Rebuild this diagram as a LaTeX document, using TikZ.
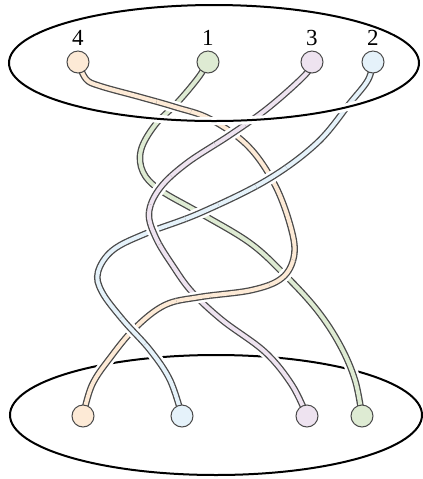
\documentclass[tikz,border=0pt]{standalone}
\usepackage{fontspec}
\setmainfont{Liberation Serif}
\usepackage{tikz}
\usetikzlibrary{positioning}
\definecolor{colOrange}{HTML}{FDEAD6}
\definecolor{colGreen}{HTML}{DEEBD3}
\definecolor{colPink}{HTML}{EEE3F0}
\definecolor{colBlue}{HTML}{E5F2FA}
\definecolor{colEdge}{HTML}{4A4A4A}
\tikzset{
    strand/.style={
        preaction={draw=white, line width=5.8pt},
        draw=colEdge, line width=0.65pt,
        double=#1, double distance=2pt
    },
    bead/.style={
        circle, draw=colEdge, fill=#1, line width=0.5pt,
        minimum size=11pt, inner sep=0pt
    },
    disk/.style={draw=black, line width=1pt},
    diskhalo/.style={draw=white, line width=4pt},
    numlabel/.style={font=\fontsize{11.5}{13}\selectfont, inner sep=2.2pt},
}
% smooth strand through a stored list of points
\newcommand{\strandplot}[2]{%
    \edef\next{\noexpand\draw[strand=#1] plot[smooth, tension=0.6] coordinates {#2};}%
    \next}
% redraw the upper strand at a crossing
\newcommand{\overat}[3]{%
    \begin{scope}
        \clip (#1) circle (9pt);
        \strandplot{#2}{#3}
    \end{scope}}
\begin{document}
\begin{tikzpicture}[x=0.5pt, y=-0.5pt]
    \useasboundingbox (0,0) rectangle (423,479);
    % lower disk, behind the strands
    \draw[disk] (216,415) ellipse (103pt and 30pt);

    % bead positions
    \coordinate (t4) at (78,62);
    \coordinate (t1) at (208,62);
    \coordinate (t3) at (312,62);
    \coordinate (t2) at (373,62);
    \coordinate (b4) at (83,416);
    \coordinate (b2) at (182,416);
    \coordinate (b3) at (307,416);
    \coordinate (b1) at (362,416);

    \def\ptsO{(t4) (86,79) (100,86) (140,97) (175,107) (210,119) (248,146) (275,185) (291,228) (294,256) (282,278) (252,290) (200,297) (165,305) (135,328) (110,358) (92,385) (b4)}
    \def\ptsG{(t1) (198,78) (177,103) (155,125) (141,150) (143,172) (160,190) (200,213) (250,243) (285,275) (317,310) (340,345) (355,380) (b1)}
    \def\ptsP{(t3) (305,75) (268,108) (230,135) (187,163) (160,188) (149,213) (156,238) (173,266) (192,292) (222,320) (265,352) (292,385) (b3)}
    \def\ptsB{(t2) (368,80) (350,103) (317,143) (267,180) (200,213) (147,233) (113,250) (98,272) (102,292) (123,320) (150,350) (170,380) (b2)}

    \strandplot{colGreen}{\ptsG}
    \strandplot{colOrange}{\ptsO}
    \strandplot{colPink}{\ptsP}
    \strandplot{colBlue}{\ptsB}

    % crossings
    \coordinate (c1) at (174,106);
    \coordinate (c2) at (229,133);
    \coordinate (c3) at (158,188);
    \coordinate (c4) at (272,178);
    \coordinate (c5) at (202,212);
    \coordinate (c6) at (150,229);
    \coordinate (c7) at (285,276);
    \coordinate (c8) at (193,294);
    \coordinate (c9) at (133,331);
    \overat{c1}{colOrange}{\ptsO}
    \overat{c2}{colPink}{\ptsP}
    \overat{c3}{colPink}{\ptsP}
    \overat{c4}{colBlue}{\ptsB}
    \overat{c5}{colBlue}{\ptsB}
    \overat{c6}{colPink}{\ptsP}
    \overat{c7}{colOrange}{\ptsO}
    \overat{c8}{colOrange}{\ptsO}
    \overat{c9}{colBlue}{\ptsB}

    % upper disk, in front of the strands
    \draw[diskhalo] (214,63) ellipse (102.5pt and 29pt);
    \draw[disk] (214,63) ellipse (102.5pt and 29pt);

    % beads
    \node[bead=colOrange] (top4) at (t4) {};
    \node[bead=colGreen] (top1) at (t1) {};
    \node[bead=colPink] (top3) at (t3) {};
    \node[bead=colBlue] (top2) at (t2) {};
    \node[bead=colOrange] (bot4) at (b4) {};
    \node[bead=colBlue] (bot2) at (b2) {};
    \node[bead=colPink] (bot3) at (b3) {};
    \node[bead=colGreen] (bot1) at (b1) {};

    \node[numlabel, above=0pt of top4] (lab4) {4};
    \node[numlabel, above=0pt of top1] (lab1) {1};
    \node[numlabel, above=0pt of top3] (lab3) {3};
    \node[numlabel, above=0pt of top2] (lab2) {2};
\end{tikzpicture}
\end{document}
